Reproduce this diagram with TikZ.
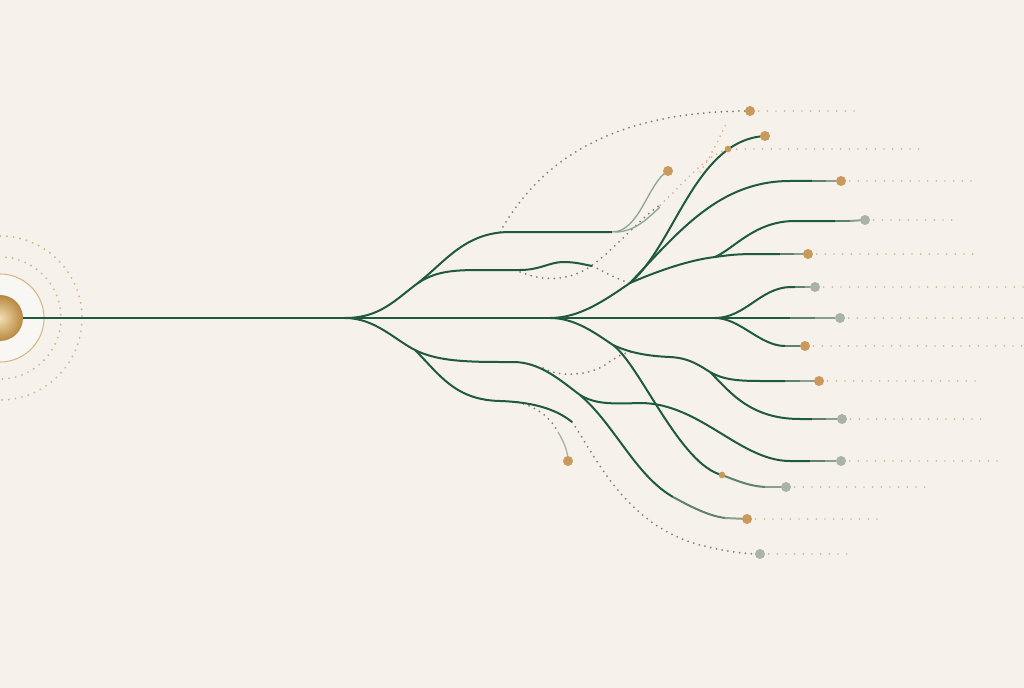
\documentclass[tikz,border=0pt]{standalone}
\begin{document}
\definecolor{bg}{HTML}{F6F2EB}
\definecolor{tg}{HTML}{1F5A3D}
\definecolor{tglight}{HTML}{8FA595}
\definecolor{gold}{HTML}{C99A5B}
\definecolor{sage}{HTML}{A9B3A6}
\definecolor{lead}{HTML}{DCB98F}
\definecolor{dotg}{HTML}{7E7F78}
\definecolor{ringc}{HTML}{D6B888}
\definecolor{sphin}{HTML}{F3DEB2}
\definecolor{sphout}{HTML}{B8873F}
\colorlet{tgmid}{tg!55!sage}
\colorlet{tglt}{tg!22!sage}
\begin{tikzpicture}[x=0.75pt,y=-0.75pt,
  trunk/.style={tg, line width=1.9pt},
  br/.style={tg, line width=1.5pt},
  thinbr/.style={tglight, line width=1pt},
  dotline/.style={dotg, line width=1.5pt, line cap=round, dash pattern=on 0pt off 4.4pt},
  beigeline/.style={lead, line width=1.5pt, line cap=round, dash pattern=on 0pt off 4.4pt},
  leader/.style={lead, line width=1.4pt, line cap=round, dash pattern=on 0pt off 6.5pt},
  ringdots/.style={ringc, line width=1.6pt, line cap=round, dash pattern=on 0pt off 5pt},
  gdot/.style={circle, fill=gold, inner sep=0pt, minimum size=7.5pt},
  sdot/.style={circle, fill=sage, inner sep=0pt, minimum size=7.5pt},
  smalldot/.style={circle, fill=gold, inner sep=0pt, minimum size=5pt}]
\useasboundingbox (0,0) rectangle (1024,688);
\fill[bg] (0,0) rectangle (1024,688);
\clip (0,0) rectangle (1024,688);

% ---- coordinates ----
\coordinate (src) at (0,318);
\coordinate (b1) at (345,318);
\coordinate (b2) at (550,318);
\coordinate (b3) at (715,318);
\coordinate (u1) at (418,283);
\coordinate (s) at (630,283);
\coordinate (s2) at (715,257);
\coordinate (l1) at (415,350);
\coordinate (a) at (580,395);
\coordinate (bb) at (572,422);
\coordinate (c) at (613,345);
\coordinate (c1) at (710,372);

\coordinate (d1) at (750,111);
\coordinate (d2) at (765,136);
\coordinate (d3) at (728,149);
\coordinate (d4) at (668,171);
\coordinate (d5) at (841,181);
\coordinate (d6) at (865,220);
\coordinate (d7) at (808,254);
\coordinate (d8) at (815,287);
\coordinate (d9) at (840,318);
\coordinate (d10) at (805,346);
\coordinate (d11) at (819,381);
\coordinate (d12) at (842,419);
\coordinate (d13) at (841,461);
\coordinate (d14) at (722,475);
\coordinate (d15) at (786,487);
\coordinate (d16) at (747,519);
\coordinate (d17) at (760,554);
\coordinate (d18) at (568,461);

% ---- source ----
\draw[ringdots] (src) circle (82);
\draw[ringdots] (src) circle (61);
\fill[white, opacity=0.4] (src) circle (44);
\draw[ringc, line width=0.8pt] (src) circle (44);

% ---- leaders ----
\draw[leader] (d1) -- (860,111);
\draw[leader] (d3) -- (922,149);
\draw[leader] (d5) -- (978,181);
\draw[leader] (d6) -- (958,220);
\draw[leader] (d7) -- (980,254);
\draw[leader] (d8) -- (1024,287);
\draw[leader] (d9) -- (1024,318);
\draw[leader] (d10) -- (1024,346);
\draw[leader] (d11) -- (983,381);
\draw[leader] (d12) -- (982,419);
\draw[leader] (d13) -- (998,461);
\draw[leader] (d15) -- (932,487);
\draw[leader] (d16) -- (882,519);
\draw[leader] (d17) -- (853,554);

% ---- dotted curves ----
\draw[dotline] (500,232) .. controls (535,170) and (600,111) .. (d1);
\draw[dotline] (520,272) .. controls (540,280) and (562,282) .. (585,270)
   .. controls (610,255) and (640,218) .. (660,205);
\draw[beigeline] (660,205) .. controls (680,188) and (705,155) .. (d3);
\draw[beigeline] (700,172) .. controls (712,155) and (718,140) .. (726,124);
\draw[dotline] (592,266) .. controls (605,272) and (618,280) .. (s);
\draw[dotline] (543,368) .. controls (560,378) and (590,375) .. (605,365)
   .. controls (615,358) and (622,353) .. (632,352);
\draw[dotline] (bb) .. controls (595,455) and (625,525) .. (700,545)
   .. controls (720,550) and (740,554) .. (d17);
\draw[dotline] (518,402) .. controls (540,408) and (552,420) .. (558,432);

% ---- trunk ----
\draw[trunk] (src) -- (790,318);
\draw[trunk, tgmid] (790,318) -- (815,318);
\draw[trunk, tglt] (815,318) -- (d9);

% ---- upper, first split ----
\draw[br] (b1) .. controls (380,318) and (395,300) .. (u1)
   .. controls (445,262) and (465,232) .. (510,232) -- (612,232);
\draw[thinbr] (612,232) .. controls (640,232) and (648,182) .. (d4);
\draw[thinbr] (615,232) .. controls (635,232) and (648,218) .. (660,207);
\draw[br] (u1) .. controls (435,272) and (450,270) .. (480,270) -- (520,270)
   .. controls (540,270) and (550,262) .. (563,262)
   .. controls (575,262) and (582,264) .. (592,266);

% ---- upper, second split ----
\draw[br] (b2) .. controls (580,318) and (605,300) .. (s);
\draw[br] (s) .. controls (675,245) and (695,140) .. (d2);
\draw[br] (s) .. controls (680,230) and (720,181) .. (790,181) -- (812,181);
\draw[br, tgmid] (812,181) -- (826,181);
\draw[br, tglt] (826,181) -- (d5);
\draw[br] (s) .. controls (660,270) and (690,260) .. (s2);
\draw[br] (s2) .. controls (730,255) and (735,254) .. (760,254) -- (780,254);
\draw[br, tgmid] (780,254) -- (794,254);
\draw[br, tglt] (794,254) -- (d7);
\draw[br] (s2) .. controls (735,248) and (755,221) .. (795,221) -- (835,221);
\draw[br, tgmid] (835,221) -- (850,221);
\draw[br, tglt] (850,221) -- (d6);

% ---- third split ----
\draw[br] (b3) .. controls (745,318) and (760,288) .. (790,287) -- (795,287);
\draw[br, tgmid] (795,287) -- (805,287);
\draw[br, tglt] (805,287) -- (d8);
\draw[br] (b3) .. controls (740,318) and (760,346) .. (785,346);
\draw[br, tgmid] (785,346) -- (d10);

% ---- lower, first split ----
\draw[br] (b1) .. controls (375,318) and (395,340) .. (l1);
\draw[br] (l1) .. controls (435,360) and (460,362) .. (500,362) -- (513,362)
   .. controls (540,362) and (560,380) .. (a);
\draw[br] (a) .. controls (595,404) and (610,404) .. (640,403)
   .. controls (700,403) and (740,461) .. (790,461) -- (810,461);
\draw[br, tgmid] (810,461) -- (825,461);
\draw[br, tglt] (825,461) -- (d13);
\draw[br] (a) .. controls (615,425) and (635,475) .. (673,497);
\draw[br, tgmid] (673,497) .. controls (695,509) and (710,516) .. (725,518);
\draw[br, tglt] (725,518) -- (d16);
\draw[br] (l1) .. controls (440,375) and (455,400) .. (500,401)
   .. controls (530,402) and (555,408) .. (bb);
\draw[thinbr, sage] (558,432) .. controls (564,442) and (568,452) .. (d18);

% ---- lower, second split ----
\draw[br] (b2) .. controls (575,318) and (595,333) .. (c);
\draw[br] (c) .. controls (628,352) and (645,356) .. (670,357)
   .. controls (690,358) and (700,366) .. (c1);
\draw[br] (c1) .. controls (722,379) and (735,381) .. (760,381) -- (785,381);
\draw[br, tgmid] (785,381) -- (800,381);
\draw[br, tglt] (800,381) -- (d11);
\draw[br] (c1) .. controls (730,392) and (750,419) .. (800,419) -- (812,419);
\draw[br, tgmid] (812,419) -- (826,419);
\draw[br, tglt] (826,419) -- (d12);
\draw[br] (c) .. controls (640,365) and (680,465) .. (d14);
\draw[br, tgmid] (d14) .. controls (740,482) and (750,486) .. (765,487);
\draw[br, tglt] (765,487) -- (d15);

% ---- sphere ----
\shade[inner color=sphin, outer color=sphout] (src) circle (23);

% ---- end dots ----
\node[gdot] (n1) at (d1) {};
\node[gdot] (n2) at (d2) {};
\node[smalldot] (n3) at (d3) {};
\node[gdot] (n4) at (d4) {};
\node[gdot] (n5) at (d5) {};
\node[sdot] (n6) at (d6) {};
\node[gdot] (n7) at (d7) {};
\node[sdot] (n8) at (d8) {};
\node[sdot] (n9) at (d9) {};
\node[gdot] (n10) at (d10) {};
\node[gdot] (n11) at (d11) {};
\node[sdot] (n12) at (d12) {};
\node[sdot] (n13) at (d13) {};
\node[smalldot] (n14) at (d14) {};
\node[sdot] (n15) at (d15) {};
\node[gdot] (n16) at (d16) {};
\node[sdot] (n17) at (d17) {};
\node[gdot] (n18) at (d18) {};
\end{tikzpicture}
\end{document}
